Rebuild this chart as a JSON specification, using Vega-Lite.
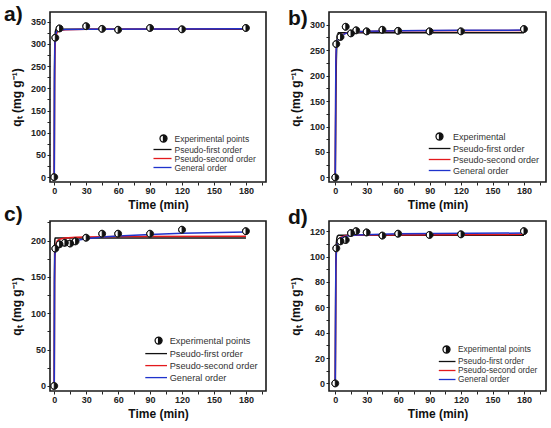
{
  "$schema": "https://vega.github.io/schema/vega-lite/v6.json",
  "background": "white",
  "padding": {"left": 3, "top": 3, "right": 0, "bottom": 0},
  "bounds": "flush",
  "columns": 2,
  "spacing": {"row": 39, "column": 63},
  "resolve": {"scale": {"color": "independent", "shape": "independent"}, "legend": {"color": "independent", "shape": "independent"}},
  "datasets": {
    "frame": [{}],
    "points": [
      {"p": "a", "s": "Experimental points", "t": 0, "q": 0}, {"p": "a", "s": "Experimental points", "t": 1, "q": 314},
      {"p": "a", "s": "Experimental points", "t": 5, "q": 335}, {"p": "a", "s": "Experimental points", "t": 30, "q": 340},
      {"p": "a", "s": "Experimental points", "t": 45, "q": 334}, {"p": "a", "s": "Experimental points", "t": 60, "q": 332},
      {"p": "a", "s": "Experimental points", "t": 90, "q": 336}, {"p": "a", "s": "Experimental points", "t": 120, "q": 333},
      {"p": "a", "s": "Experimental points", "t": 180, "q": 336},
      {"p": "b", "s": "Experimental", "t": 0, "q": 0}, {"p": "b", "s": "Experimental", "t": 1, "q": 262},
      {"p": "b", "s": "Experimental", "t": 5, "q": 276}, {"p": "b", "s": "Experimental", "t": 10, "q": 296},
      {"p": "b", "s": "Experimental", "t": 15, "q": 283}, {"p": "b", "s": "Experimental", "t": 20, "q": 289},
      {"p": "b", "s": "Experimental", "t": 30, "q": 287}, {"p": "b", "s": "Experimental", "t": 45, "q": 290},
      {"p": "b", "s": "Experimental", "t": 60, "q": 288}, {"p": "b", "s": "Experimental", "t": 90, "q": 287},
      {"p": "b", "s": "Experimental", "t": 120, "q": 287}, {"p": "b", "s": "Experimental", "t": 180, "q": 291.5},
      {"p": "c", "s": "Experimental points", "t": 0, "q": 0}, {"p": "c", "s": "Experimental points", "t": 1, "q": 189},
      {"p": "c", "s": "Experimental points", "t": 5, "q": 195}, {"p": "c", "s": "Experimental points", "t": 10, "q": 197},
      {"p": "c", "s": "Experimental points", "t": 15, "q": 196}, {"p": "c", "s": "Experimental points", "t": 20, "q": 199},
      {"p": "c", "s": "Experimental points", "t": 30, "q": 204}, {"p": "c", "s": "Experimental points", "t": 45, "q": 209.5},
      {"p": "c", "s": "Experimental points", "t": 60, "q": 209.5}, {"p": "c", "s": "Experimental points", "t": 90, "q": 209.5},
      {"p": "c", "s": "Experimental points", "t": 120, "q": 215}, {"p": "c", "s": "Experimental points", "t": 180, "q": 213},
      {"p": "d", "s": "Experimental points", "t": 0, "q": 0}, {"p": "d", "s": "Experimental points", "t": 1, "q": 106.5},
      {"p": "d", "s": "Experimental points", "t": 5, "q": 112}, {"p": "d", "s": "Experimental points", "t": 10, "q": 113},
      {"p": "d", "s": "Experimental points", "t": 15, "q": 118.5}, {"p": "d", "s": "Experimental points", "t": 20, "q": 120},
      {"p": "d", "s": "Experimental points", "t": 30, "q": 119}, {"p": "d", "s": "Experimental points", "t": 45, "q": 116.5},
      {"p": "d", "s": "Experimental points", "t": 60, "q": 118}, {"p": "d", "s": "Experimental points", "t": 90, "q": 117},
      {"p": "d", "s": "Experimental points", "t": 120, "q": 117.5}, {"p": "d", "s": "Experimental points", "t": 180, "q": 120}
    ],
    "fits": [
      {"p": "a", "s": "Pseudo-first order", "t": 0, "q": 0}, {"p": "a", "s": "Pseudo-first order", "t": 0.25, "q": 240},
      {"p": "a", "s": "Pseudo-first order", "t": 0.5, "q": 305}, {"p": "a", "s": "Pseudo-first order", "t": 1, "q": 328},
      {"p": "a", "s": "Pseudo-first order", "t": 1.5, "q": 332}, {"p": "a", "s": "Pseudo-first order", "t": 2, "q": 333},
      {"p": "a", "s": "Pseudo-first order", "t": 180, "q": 333},
      {"p": "a", "s": "Pseudo-second order", "t": 0, "q": 0}, {"p": "a", "s": "Pseudo-second order", "t": 0.25, "q": 200},
      {"p": "a", "s": "Pseudo-second order", "t": 0.5, "q": 270}, {"p": "a", "s": "Pseudo-second order", "t": 1, "q": 305},
      {"p": "a", "s": "Pseudo-second order", "t": 2, "q": 322}, {"p": "a", "s": "Pseudo-second order", "t": 3, "q": 327},
      {"p": "a", "s": "Pseudo-second order", "t": 5, "q": 330}, {"p": "a", "s": "Pseudo-second order", "t": 10, "q": 332},
      {"p": "a", "s": "Pseudo-second order", "t": 30, "q": 333}, {"p": "a", "s": "Pseudo-second order", "t": 180, "q": 334},
      {"p": "a", "s": "General order", "t": 0, "q": 0}, {"p": "a", "s": "General order", "t": 0.25, "q": 220},
      {"p": "a", "s": "General order", "t": 0.5, "q": 290}, {"p": "a", "s": "General order", "t": 1, "q": 318},
      {"p": "a", "s": "General order", "t": 2, "q": 327}, {"p": "a", "s": "General order", "t": 3, "q": 330},
      {"p": "a", "s": "General order", "t": 5, "q": 331.5}, {"p": "a", "s": "General order", "t": 10, "q": 332.5},
      {"p": "a", "s": "General order", "t": 30, "q": 333}, {"p": "a", "s": "General order", "t": 180, "q": 334},

      {"p": "b", "s": "Pseudo-first order", "t": 0, "q": 0}, {"p": "b", "s": "Pseudo-first order", "t": 0.5, "q": 150},
      {"p": "b", "s": "Pseudo-first order", "t": 1, "q": 230}, {"p": "b", "s": "Pseudo-first order", "t": 1.5, "q": 268},
      {"p": "b", "s": "Pseudo-first order", "t": 2, "q": 280}, {"p": "b", "s": "Pseudo-first order", "t": 3, "q": 284},
      {"p": "b", "s": "Pseudo-first order", "t": 180, "q": 284},
      {"p": "b", "s": "Pseudo-second order", "t": 0, "q": 0}, {"p": "b", "s": "Pseudo-second order", "t": 0.5, "q": 220},
      {"p": "b", "s": "Pseudo-second order", "t": 1, "q": 255}, {"p": "b", "s": "Pseudo-second order", "t": 2, "q": 268},
      {"p": "b", "s": "Pseudo-second order", "t": 3, "q": 274}, {"p": "b", "s": "Pseudo-second order", "t": 5, "q": 279},
      {"p": "b", "s": "Pseudo-second order", "t": 10, "q": 283}, {"p": "b", "s": "Pseudo-second order", "t": 20, "q": 286},
      {"p": "b", "s": "Pseudo-second order", "t": 60, "q": 288}, {"p": "b", "s": "Pseudo-second order", "t": 180, "q": 288.5},
      {"p": "b", "s": "General order", "t": 0, "q": 0}, {"p": "b", "s": "General order", "t": 0.5, "q": 225},
      {"p": "b", "s": "General order", "t": 1, "q": 258}, {"p": "b", "s": "General order", "t": 2, "q": 268},
      {"p": "b", "s": "General order", "t": 3, "q": 273}, {"p": "b", "s": "General order", "t": 5, "q": 278},
      {"p": "b", "s": "General order", "t": 10, "q": 283}, {"p": "b", "s": "General order", "t": 20, "q": 286},
      {"p": "b", "s": "General order", "t": 30, "q": 287}, {"p": "b", "s": "General order", "t": 60, "q": 288},
      {"p": "b", "s": "General order", "t": 120, "q": 289}, {"p": "b", "s": "General order", "t": 180, "q": 289.5},

      {"p": "c", "s": "Pseudo-first order", "t": 0, "q": 0}, {"p": "c", "s": "Pseudo-first order", "t": 0.2, "q": 140},
      {"p": "c", "s": "Pseudo-first order", "t": 0.4, "q": 195}, {"p": "c", "s": "Pseudo-first order", "t": 0.6, "q": 202},
      {"p": "c", "s": "Pseudo-first order", "t": 1, "q": 203.5}, {"p": "c", "s": "Pseudo-first order", "t": 180, "q": 203.5},
      {"p": "c", "s": "Pseudo-second order", "t": 0, "q": 0}, {"p": "c", "s": "Pseudo-second order", "t": 0.25, "q": 140},
      {"p": "c", "s": "Pseudo-second order", "t": 0.5, "q": 175}, {"p": "c", "s": "Pseudo-second order", "t": 1, "q": 190},
      {"p": "c", "s": "Pseudo-second order", "t": 2, "q": 197}, {"p": "c", "s": "Pseudo-second order", "t": 3, "q": 200},
      {"p": "c", "s": "Pseudo-second order", "t": 5, "q": 202}, {"p": "c", "s": "Pseudo-second order", "t": 10, "q": 203.5},
      {"p": "c", "s": "Pseudo-second order", "t": 20, "q": 204.5}, {"p": "c", "s": "Pseudo-second order", "t": 30, "q": 205},
      {"p": "c", "s": "Pseudo-second order", "t": 60, "q": 205.5}, {"p": "c", "s": "Pseudo-second order", "t": 180, "q": 206},
      {"p": "c", "s": "General order", "t": 0, "q": 0}, {"p": "c", "s": "General order", "t": 0.25, "q": 150},
      {"p": "c", "s": "General order", "t": 0.5, "q": 178}, {"p": "c", "s": "General order", "t": 1, "q": 185},
      {"p": "c", "s": "General order", "t": 2, "q": 189}, {"p": "c", "s": "General order", "t": 5, "q": 193},
      {"p": "c", "s": "General order", "t": 10, "q": 196}, {"p": "c", "s": "General order", "t": 20, "q": 200},
      {"p": "c", "s": "General order", "t": 30, "q": 202.5}, {"p": "c", "s": "General order", "t": 45, "q": 205},
      {"p": "c", "s": "General order", "t": 60, "q": 206.5}, {"p": "c", "s": "General order", "t": 90, "q": 208.5},
      {"p": "c", "s": "General order", "t": 120, "q": 210}, {"p": "c", "s": "General order", "t": 180, "q": 212},

      {"p": "d", "s": "Pseudo-first order", "t": 0, "q": 0}, {"p": "d", "s": "Pseudo-first order", "t": 0.5, "q": 95},
      {"p": "d", "s": "Pseudo-first order", "t": 1, "q": 110}, {"p": "d", "s": "Pseudo-first order", "t": 1.5, "q": 114.5},
      {"p": "d", "s": "Pseudo-first order", "t": 2, "q": 116}, {"p": "d", "s": "Pseudo-first order", "t": 3, "q": 116.7},
      {"p": "d", "s": "Pseudo-first order", "t": 180, "q": 116.8},
      {"p": "d", "s": "Pseudo-second order", "t": 0, "q": 0}, {"p": "d", "s": "Pseudo-second order", "t": 0.5, "q": 88},
      {"p": "d", "s": "Pseudo-second order", "t": 1, "q": 102}, {"p": "d", "s": "Pseudo-second order", "t": 2, "q": 110},
      {"p": "d", "s": "Pseudo-second order", "t": 3, "q": 113}, {"p": "d", "s": "Pseudo-second order", "t": 5, "q": 115},
      {"p": "d", "s": "Pseudo-second order", "t": 10, "q": 116.5}, {"p": "d", "s": "Pseudo-second order", "t": 30, "q": 117},
      {"p": "d", "s": "Pseudo-second order", "t": 180, "q": 117.5},
      {"p": "d", "s": "General order", "t": 0, "q": 0}, {"p": "d", "s": "General order", "t": 0.5, "q": 92},
      {"p": "d", "s": "General order", "t": 1, "q": 104}, {"p": "d", "s": "General order", "t": 2, "q": 110},
      {"p": "d", "s": "General order", "t": 3, "q": 112.5}, {"p": "d", "s": "General order", "t": 5, "q": 114.5},
      {"p": "d", "s": "General order", "t": 10, "q": 116}, {"p": "d", "s": "General order", "t": 20, "q": 117},
      {"p": "d", "s": "General order", "t": 60, "q": 118}, {"p": "d", "s": "General order", "t": 180, "q": 118.5}
    ]
  },
  "concat": [
    {
      "width": 216, "height": 170,
      "title": {"text": "a)", "anchor": "start", "frame": "group", "offset": -22, "dx": -46, "dy": 8, "baseline": "alphabetic"},
      "encoding": {
        "x": {"field": "t", "type": "quantitative", "scale": {"domain": [-4, 198.8], "nice": false, "zero": false},
          "axis": {"title": "Time (min)", "values": [0, 15, 30, 45, 60, 75, 90, 105, 120, 135, 150, 165, 180, 195], "labelExpr": "datum.value % 30 === 0 ? datum.label : ''"}},
        "y": {"field": "q", "type": "quantitative", "scale": {"domain": [-11, 372], "nice": false, "zero": false},
          "axis": {"title": "qₜ (mg g⁻¹)", "values": [0, 25, 50, 75, 100, 125, 150, 175, 200, 225, 250, 275, 300, 325, 350], "labelExpr": "datum.value % 50 === 0 ? datum.label : ''"}}
      },
      "layer": [
        {"data": {"name": "fits"}, "transform": [{"filter": "datum.p === 'a'"}],
          "mark": {"type": "line", "strokeWidth": 1.5},
          "encoding": {"color": {"field": "s", "type": "nominal",
            "scale": {"domain": ["Experimental points", "Pseudo-first order", "Pseudo-second order", "General order"], "range": ["#111111", "#111111", "#e3191c", "#1f33cc"]},
            "legend": {"orient": "bottom-right", "offset": 10, "labelFontSize": 8.5, "rowPadding": 0, "labelOffset": 6.5,
              "encoding": {"symbols": {"fill": {"value": "#111111"}, "opacity": {"value": 1}}}}}}},
        {"data": {"name": "points"}, "transform": [{"filter": "datum.p === 'a'"}],
          "mark": {"type": "point", "shape": "circle", "filled": true, "fill": "white", "size": 48, "opacity": 1}},
        {"data": {"name": "points"}, "transform": [{"filter": "datum.p === 'a'"}],
          "mark": {"type": "point", "filled": false, "fill": "#111111", "strokeWidth": 0.9, "size": 48, "opacity": 1},
          "encoding": {
            "color": {"field": "s", "type": "nominal"},
            "shape": {"field": "s", "type": "nominal",
              "scale": {"domain": ["Experimental points", "Pseudo-first order", "Pseudo-second order", "General order"],
                "range": ["M0,-1A1,1 0 0,1 0,1Z M0,-1A1,1 0 0,0 0,1A1,1 0 0,1 0,-1", "M-2.86,0H2.29", "M-2.86,0H2.29", "M-2.86,0H2.29"]},
              "legend": {"orient": "bottom-right", "offset": 10, "labelFontSize": 8.5, "rowPadding": 0, "labelOffset": 6.5}}}},
        {"data": {"name": "frame"}, "mark": {"type": "rect", "filled": false, "stroke": "#1a1a1a", "strokeWidth": 1.6},
          "encoding": {"x": {"datum": -4, "type": "quantitative"}, "x2": {"datum": 198.8}, "y": {"datum": -11, "type": "quantitative"}, "y2": {"datum": 372}}}
      ]
    },
    {
      "width": 217, "height": 170,
      "title": {"text": "b)", "anchor": "start", "frame": "group", "offset": -24, "dx": -41, "dy": 10, "baseline": "alphabetic"},
      "encoding": {
        "x": {"field": "t", "type": "quantitative", "scale": {"domain": [-6, 201], "nice": false, "zero": false},
          "axis": {"title": "Time (min)", "values": [0, 15, 30, 45, 60, 75, 90, 105, 120, 135, 150, 165, 180, 195], "labelExpr": "datum.value % 30 === 0 ? datum.label : ''"}},
        "y": {"field": "q", "type": "quantitative", "scale": {"domain": [-9, 325], "nice": false, "zero": false},
          "axis": {"title": "qₜ (mg g⁻¹)", "values": [0, 25, 50, 75, 100, 125, 150, 175, 200, 225, 250, 275, 300], "labelExpr": "datum.value % 50 === 0 ? datum.label : ''"}}
      },
      "layer": [
        {"data": {"name": "fits"}, "transform": [{"filter": "datum.p === 'b'"}],
          "mark": {"type": "line", "strokeWidth": 1.5},
          "encoding": {"color": {"field": "s", "type": "nominal",
            "scale": {"domain": ["Experimental", "Pseudo-first order", "Pseudo-second order", "General order"], "range": ["#111111", "#111111", "#e3191c", "#1f33cc"]},
            "legend": {"orient": "bottom-right", "offset": 6, "labelFontSize": 9, "rowPadding": 1, "labelOffset": 9,
              "encoding": {"symbols": {"fill": {"value": "#111111"}, "opacity": {"value": 1}}}}}}},
        {"data": {"name": "points"}, "transform": [{"filter": "datum.p === 'b'"}],
          "mark": {"type": "point", "shape": "circle", "filled": true, "fill": "white", "size": 48, "opacity": 1}},
        {"data": {"name": "points"}, "transform": [{"filter": "datum.p === 'b'"}],
          "mark": {"type": "point", "filled": false, "fill": "#111111", "strokeWidth": 0.9, "size": 48, "opacity": 1},
          "encoding": {
            "color": {"field": "s", "type": "nominal"},
            "shape": {"field": "s", "type": "nominal",
              "scale": {"domain": ["Experimental", "Pseudo-first order", "Pseudo-second order", "General order"],
                "range": ["M0,-1A1,1 0 0,1 0,1Z M0,-1A1,1 0 0,0 0,1A1,1 0 0,1 0,-1", "M-3.06,0H3.14", "M-3.06,0H3.14", "M-3.06,0H3.14"]},
              "legend": {"orient": "bottom-right", "offset": 6, "labelFontSize": 9, "rowPadding": 1, "labelOffset": 9}}}},
        {"data": {"name": "frame"}, "mark": {"type": "rect", "filled": false, "stroke": "#1a1a1a", "strokeWidth": 1.6},
          "encoding": {"x": {"datum": -6, "type": "quantitative"}, "x2": {"datum": 201}, "y": {"datum": -9, "type": "quantitative"}, "y2": {"datum": 325}}}
      ]
    },
    {
      "width": 216, "height": 170,
      "title": {"text": "c)", "anchor": "start", "frame": "group", "offset": -19, "dx": -46, "dy": 5, "baseline": "alphabetic"},
      "encoding": {
        "x": {"field": "t", "type": "quantitative", "scale": {"domain": [-4, 198.8], "nice": false, "zero": false},
          "axis": {"title": "Time (min)", "values": [0, 15, 30, 45, 60, 75, 90, 105, 120, 135, 150, 165, 180, 195], "labelExpr": "datum.value % 30 === 0 ? datum.label : ''"}},
        "y": {"field": "q", "type": "quantitative", "scale": {"domain": [-7, 227], "nice": false, "zero": false},
          "axis": {"title": "qₜ (mg g⁻¹)", "values": [0, 25, 50, 75, 100, 125, 150, 175, 200, 225], "labelExpr": "datum.value % 50 === 0 ? datum.label : ''"}}
      },
      "layer": [
        {"data": {"name": "fits"}, "transform": [{"filter": "datum.p === 'c'"}],
          "mark": {"type": "line", "strokeWidth": 1.5},
          "encoding": {"color": {"field": "s", "type": "nominal",
            "scale": {"domain": ["Experimental points", "Pseudo-first order", "Pseudo-second order", "General order"], "range": ["#111111", "#111111", "#e3191c", "#1f33cc"]},
            "legend": {"orient": "bottom-right", "offset": 8, "labelFontSize": 9.2, "rowPadding": 2, "labelOffset": 6.5,
              "encoding": {"symbols": {"fill": {"value": "#111111"}, "opacity": {"value": 1}}}}}}},
        {"data": {"name": "points"}, "transform": [{"filter": "datum.p === 'c'"}],
          "mark": {"type": "point", "shape": "circle", "filled": true, "fill": "white", "size": 48, "opacity": 1}},
        {"data": {"name": "points"}, "transform": [{"filter": "datum.p === 'c'"}],
          "mark": {"type": "point", "filled": false, "fill": "#111111", "strokeWidth": 0.9, "size": 48, "opacity": 1},
          "encoding": {
            "color": {"field": "s", "type": "nominal"},
            "shape": {"field": "s", "type": "nominal",
              "scale": {"domain": ["Experimental points", "Pseudo-first order", "Pseudo-second order", "General order"],
                "range": ["M0,-1A1,1 0 0,1 0,1Z M0,-1A1,1 0 0,0 0,1A1,1 0 0,1 0,-1", "M-3.8,0H2.4", "M-3.8,0H2.4", "M-3.8,0H2.4"]},
              "legend": {"orient": "bottom-right", "offset": 8, "labelFontSize": 9.2, "rowPadding": 2, "labelOffset": 6.5}}}},
        {"data": {"name": "frame"}, "mark": {"type": "rect", "filled": false, "stroke": "#1a1a1a", "strokeWidth": 1.6},
          "encoding": {"x": {"datum": -4, "type": "quantitative"}, "x2": {"datum": 198.8}, "y": {"datum": -7, "type": "quantitative"}, "y2": {"datum": 227}}}
      ]
    },
    {
      "width": 217, "height": 170,
      "title": {"text": "d)", "anchor": "start", "frame": "group", "offset": -19, "dx": -41, "dy": 5, "baseline": "alphabetic"},
      "encoding": {
        "x": {"field": "t", "type": "quantitative", "scale": {"domain": [-6, 201], "nice": false, "zero": false},
          "axis": {"title": "Time (min)", "values": [0, 15, 30, 45, 60, 75, 90, 105, 120, 135, 150, 165, 180, 195], "labelExpr": "datum.value % 30 === 0 ? datum.label : ''"}},
        "y": {"field": "q", "type": "quantitative", "scale": {"domain": [-6, 128], "nice": false, "zero": false},
          "axis": {"title": "qₜ (mg g⁻¹)", "values": [0, 10, 20, 30, 40, 50, 60, 70, 80, 90, 100, 110, 120], "labelExpr": "datum.value % 20 === 0 ? datum.label : ''"}}
      },
      "layer": [
        {"data": {"name": "fits"}, "transform": [{"filter": "datum.p === 'd'"}],
          "mark": {"type": "line", "strokeWidth": 1.5},
          "encoding": {"color": {"field": "s", "type": "nominal",
            "scale": {"domain": ["Experimental points", "Pseudo-first order", "Pseudo-second order", "General order"], "range": ["#111111", "#111111", "#e3191c", "#1f33cc"]},
            "legend": {"orient": "bottom-right", "offset": 8, "labelFontSize": 8.3, "rowPadding": 0, "labelOffset": 7,
              "encoding": {"symbols": {"fill": {"value": "#111111"}, "opacity": {"value": 1}}}}}}},
        {"data": {"name": "points"}, "transform": [{"filter": "datum.p === 'd'"}],
          "mark": {"type": "point", "shape": "circle", "filled": true, "fill": "white", "size": 48, "opacity": 1}},
        {"data": {"name": "points"}, "transform": [{"filter": "datum.p === 'd'"}],
          "mark": {"type": "point", "filled": false, "fill": "#111111", "strokeWidth": 0.9, "size": 48, "opacity": 1},
          "encoding": {
            "color": {"field": "s", "type": "nominal"},
            "shape": {"field": "s", "type": "nominal",
              "scale": {"domain": ["Experimental points", "Pseudo-first order", "Pseudo-second order", "General order"],
                "range": ["M0,-1A1,1 0 0,1 0,1Z M0,-1A1,1 0 0,0 0,1A1,1 0 0,1 0,-1", "M-2.2,0H2.57", "M-2.2,0H2.57", "M-2.2,0H2.57"]},
              "legend": {"orient": "bottom-right", "offset": 8, "labelFontSize": 8.3, "rowPadding": 0, "labelOffset": 7}}}},
        {"data": {"name": "frame"}, "mark": {"type": "rect", "filled": false, "stroke": "#1a1a1a", "strokeWidth": 1.6},
          "encoding": {"x": {"datum": -6, "type": "quantitative"}, "x2": {"datum": 201}, "y": {"datum": -6, "type": "quantitative"}, "y2": {"datum": 128}}}
      ]
    }
  ],
  "config": {
    "font": "Liberation Sans",
    "view": {"stroke": "#1a1a1a", "strokeWidth": 1.6},
    "title": {"fontSize": 21, "fontWeight": "bold", "color": "#111111", "font": "Liberation Sans"},
    "axis": {"domain": false, "grid": false, "labelFontSize": 9, "labelFontWeight": "bold", "labelColor": "#222222",
      "labelPadding": 1.5, "labelFlush": false, "labelOverlap": false, "tickColor": "#222222", "tickWidth": 1, "tickSize": 3,
      "titleFontSize": 12, "titleFontWeight": "bold", "titleColor": "#111111", "titlePadding": 4},
    "axisY": {"titlePadding": 7},
    "legend": {"title": null, "padding": 0, "labelFont": "Liberation Sans", "labelColor": "#333333", "symbolSize": 49, "symbolStrokeWidth": 1.3, "labelLimit": 200}
  }
}
